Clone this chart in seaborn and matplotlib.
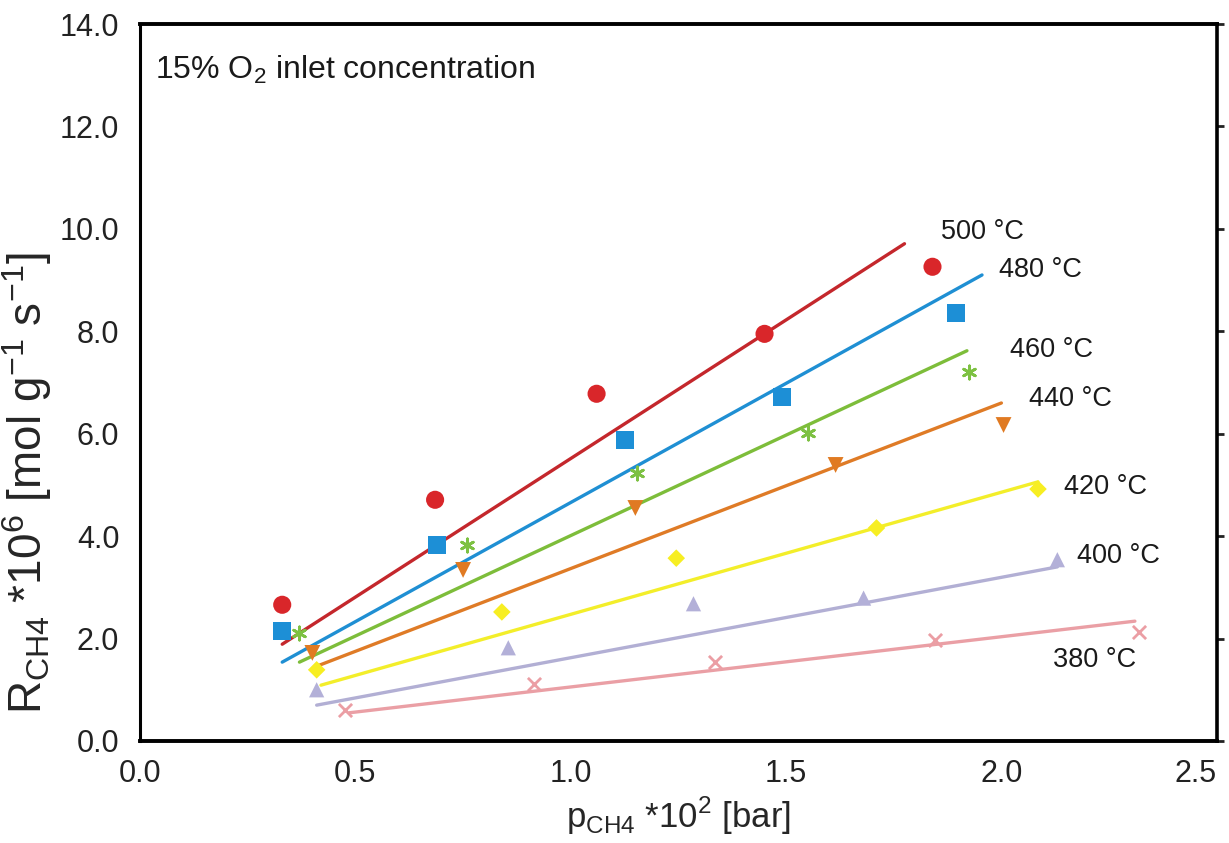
import matplotlib
matplotlib.use("Agg")
import matplotlib.pyplot as plt
import seaborn as sns
import numpy as np
import pandas as pd

# measured rates, one list per temperature
temps = ["500 °C", "480 °C", "460 °C", "440 °C", "420 °C", "400 °C", "380 °C"]
p_500 = [0.33, 0.685, 1.06, 1.45, 1.84]
r_500 = [2.66, 4.71, 6.78, 7.95, 9.26]
p_480 = [0.33, 0.69, 1.125, 1.49, 1.895]
r_480 = [2.15, 3.83, 5.88, 6.72, 8.36]
p_460 = [0.37, 0.76, 1.155, 1.55, 1.925]
r_460 = [2.11, 3.83, 5.23, 6.02, 7.21]
p_440 = [0.40, 0.75, 1.15, 1.615, 2.005]
r_440 = [1.72, 3.34, 4.55, 5.39, 6.17]
p_420 = [0.41, 0.84, 1.245, 1.71, 2.085]
r_420 = [1.39, 2.52, 3.57, 4.16, 4.92]
p_400 = [0.41, 0.855, 1.285, 1.68, 2.13]
r_400 = [1.00, 1.82, 2.68, 2.79, 3.54]
p_380 = [0.475, 0.915, 1.335, 1.845, 2.32]
r_380 = [0.61, 1.11, 1.54, 1.97, 2.13]

# fitted lines (start / end)
fit_p0 = [0.33, 0.33, 0.37, 0.41, 0.42, 0.41, 0.485]
fit_p1 = [1.775, 1.955, 1.92, 2.00, 2.085, 2.13, 2.31]
fit_r0 = [1.89, 1.54, 1.54, 1.46, 1.09, 0.70, 0.55]
fit_r1 = [9.71, 9.10, 7.62, 6.60, 5.06, 3.40, 2.34]

# label anchor positions
lab_p = [1.86, 1.995, 2.02, 2.065, 2.145, 2.175, 2.12]
lab_r = [9.94, 9.20, 7.64, 6.68, 4.96, 3.61, 1.58]

point_colors = ["#d9262a", "#1d8fd6", "#7dc142", "#e07a22", "#f7ee22", "#b3b0d8", "#eb9ea4"]
line_colors = ["#c4272c", "#1f8fd3", "#7dbd3a", "#df7b26", "#f3ee2a", "#b2afd4", "#ea9fa5"]
markers = ["o", "s", (6, 2, 0), "v", "D", "^", "x"]
msizes = [170, 170, 90, 130, 80, 120, 90]

ps = [p_500, p_480, p_460, p_440, p_420, p_400, p_380]
rs = [r_500, r_480, r_460, r_440, r_420, r_400, r_380]
pts = pd.concat([pd.DataFrame({"p": p, "r": r, "T": t}) for p, r, t in zip(ps, rs, temps)])
fits = pd.concat([pd.DataFrame({"p": [a, b], "r": [c, d], "T": t})
                  for a, b, c, d, t in zip(fit_p0, fit_p1, fit_r0, fit_r1, temps)])

sns.set_style("white")
plt.rcParams["font.family"] = ["Liberation Sans", "DejaVu Sans"]
plt.rcParams["mathtext.fontset"] = "custom"
plt.rcParams["mathtext.rm"] = "Liberation Sans"

fig = plt.figure(figsize=(12.29, 8.43), dpi=100)
ax = fig.add_axes([0.114, 0.121, 0.876, 0.8505])

sns.lineplot(data=fits, x="p", y="r", hue="T", hue_order=temps,
             palette=dict(zip(temps, line_colors)), lw=2.4, legend=False, ax=ax)
for t, c, m, s in zip(temps, point_colors, markers, msizes):
    sub = pts[pts["T"] == t]
    if m in ["x", (6, 2, 0)]:
        ax.scatter(sub["p"], sub["r"], marker=m, s=s, color=c, linewidths=2.0, zorder=3)
    else:
        sns.scatterplot(data=sub, x="p", y="r", marker=m, s=s, color=c,
                        edgecolor="none", legend=False, ax=ax, zorder=3)

for t, x, y in zip(temps, lab_p, lab_r):
    ax.text(x, y, t, fontsize=19.5, va="center", ha="left", color="#1a1a1a")

ax.text(0.035, 13.1, r"15% O$_{\mathregular{2}}$ inlet concentration", fontsize=23,
        va="center", color="#1a1a1a")

ax.set_xlim(0, 2.5)
ax.set_ylim(0, 14)
ax.set_xticks(np.arange(0, 2.51, 0.5))
ax.set_yticks(np.arange(0, 14.1, 2))
ax.set_xticklabels([f"{v:.1f}" for v in np.arange(0, 2.51, 0.5)])
ax.set_yticklabels([f"{v:.1f}" for v in np.arange(0, 14.1, 2)])
ax.tick_params(axis="both", labelsize=22, colors="#222222")
ax.tick_params(axis="x", direction="out", length=4, width=1.5, pad=9)
ax.tick_params(axis="y", left=False, right=True, labelleft=True, labelright=False,
               direction="out", length=5, width=2, pad=10)
ax.get_xticklabels()[-1].set_horizontalalignment("right")

ax.set_xlabel(r"p$_{\mathregular{CH4}}$ *10$^{\mathregular{2}}$ [bar]", fontsize=25, labelpad=4)
ax.set_ylabel(r"R$_{\mathregular{CH4}}$ *10$^{\mathregular{6}}$ [mol g$^{\mathregular{-1}}$ s$^{\mathregular{-1}}$]",
              fontsize=33)
ax.yaxis.set_label_coords(-0.08, 0.36)

for side, w in zip(["left", "right", "top", "bottom"], [2.2, 2.6, 2.8, 2.8]):
    ax.spines[side].set_visible(True)
    ax.spines[side].set_color("black")
    ax.spines[side].set_linewidth(w)

fig.savefig("out.png", dpi=100)
